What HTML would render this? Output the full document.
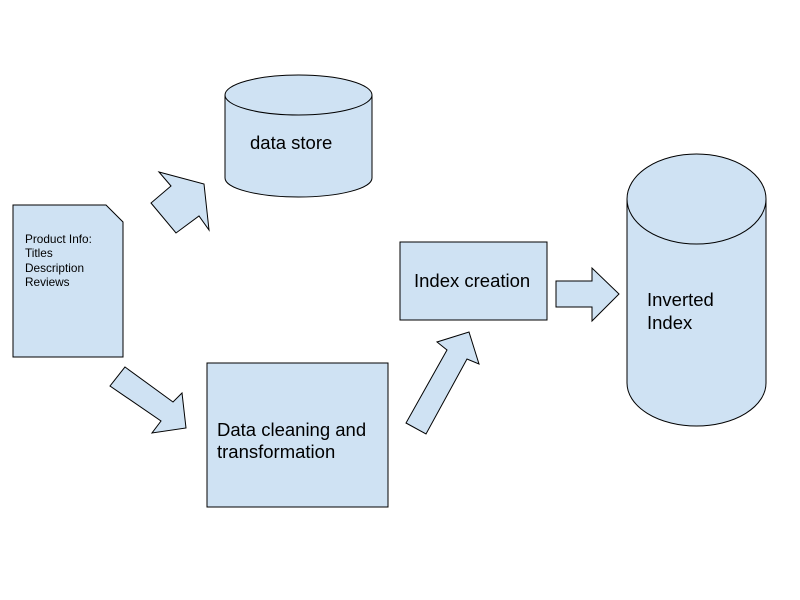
<!DOCTYPE html>
<html><head><style>html,body{margin:0;padding:0;background:#fff}svg{display:block}</style></head>
<body>
<svg width="800" height="600" viewBox="0 0 800 600" xmlns="http://www.w3.org/2000/svg" font-family="Liberation Sans, Arial, sans-serif">
<g fill="#cfe2f3" stroke="#000" stroke-width="1">
<path d="M13,205 H106 L123,222 V357 H13 Z"/>
<polygon points="159,172 204,184 209,230 199,216 176,233 151,203 171,186"/>
<polygon points="125,367 173,402 182,393 186,428 152,433 161,421 110,386"/>
<polygon points="469,332 479,364 467,359 426,434 406,423 447,350 437,342"/>
<polygon points="556,281 592,281 592,268 619,294 592,321 592,307 556,307"/>
<rect x="400" y="242" width="147" height="78"/>
<rect x="207" y="363" width="181" height="144"/>
<path d="M225,95 V178 A73.5,19 0 0 0 372,178 V95"/>
<ellipse cx="298.5" cy="95" rx="73.5" ry="20"/>
<path d="M627,199 V383 A69.5,43 0 0 0 766,383 V199"/>
<ellipse cx="696.5" cy="199" rx="69.5" ry="45"/>
</g>
<g fill="#000">
<text x="25" y="243" font-size="11.8">Product Info:</text>
<text x="25" y="257" font-size="11.8">Titles</text>
<text x="25" y="272" font-size="11.8">Description</text>
<text x="25" y="286" font-size="11.8">Reviews</text>
<text x="250" y="149" font-size="18.5">data store</text>
<text x="414" y="287" font-size="18.5">Index creation</text>
<text x="217" y="436" font-size="18.5">Data cleaning and</text>
<text x="217" y="458" font-size="18.5">transformation</text>
<text x="647" y="306" font-size="18.5">Inverted</text>
<text x="647" y="329" font-size="18.5">Index</text>
</g>
</svg>
</body></html>
